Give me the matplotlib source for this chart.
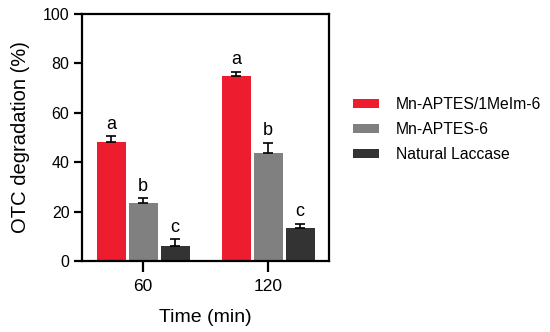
import numpy as np
import matplotlib.pyplot as plt
from matplotlib.patches import Patch

plt.rcParams['font.family'] = ['Liberation Sans', 'DejaVu Sans']

times = ['60', '120']
series = ['Mn-APTES/1MeIm-6', 'Mn-APTES-6', 'Natural Laccase']
values = [
    [48.0, 75.0],
    [23.6, 43.8],
    [6.1, 13.2],
]
errors = [
    [2.4, 1.6],
    [1.8, 4.1],
    [2.7, 1.8],
]
letters = [
    ['a', 'a'],
    ['b', 'b'],
    ['c', 'c'],
]
colors = ['#ED1C2E', '#808080', '#333333']

fig = plt.figure(figsize=(5.5, 3.32), dpi=100)
ax = fig.add_axes([0.149, 0.214, 0.449, 0.744])

x = np.arange(len(times))
width = 0.234
step = 0.256
for i, (vals, errs, labs, c) in enumerate(zip(values, errors, letters, colors)):
    pos = x + (i - 1) * step
    ax.bar(pos, vals, width=width, color=c, label=series[i], zorder=2)
    ax.errorbar(pos, vals, yerr=[np.zeros(len(errs)), errs], fmt='none',
                ecolor='black', elinewidth=1.2, capsize=3.6, capthick=1.2, zorder=3)
    for p, v, e, l in zip(pos, vals, errs, labs):
        ax.text(p, v + e + 1.5, l, ha='center', va='bottom', fontsize=13)

ax.set_xlim(-0.49, 1.486)
ax.set_ylim(0, 100)
ax.set_yticks([0, 20, 40, 60, 80, 100])
ax.set_xticks(x)
ax.set_xticklabels(times)
ax.tick_params(axis='both', width=1.6, length=6, direction='out', pad=3)
ax.tick_params(axis='y', labelsize=11.5)
ax.tick_params(axis='x', labelsize=12.5, length=8, pad=5)
for s in ax.spines.values():
    s.set_linewidth(1.6)

ax.set_ylabel('OTC degradation (%)', fontsize=14.5, labelpad=9)
ax.set_xlabel('Time (min)', fontsize=14, labelpad=11)

handles = [Patch(facecolor=c, edgecolor='none') for c in colors]
fig.legend(handles, series, loc='upper left', bbox_to_anchor=(0.627, 0.73),
           frameon=False, fontsize=11.3, handlelength=1.7, handleheight=0.5,
           handletextpad=1.05, labelspacing=0.62, borderpad=0)

fig.savefig('out.png', dpi=100)
